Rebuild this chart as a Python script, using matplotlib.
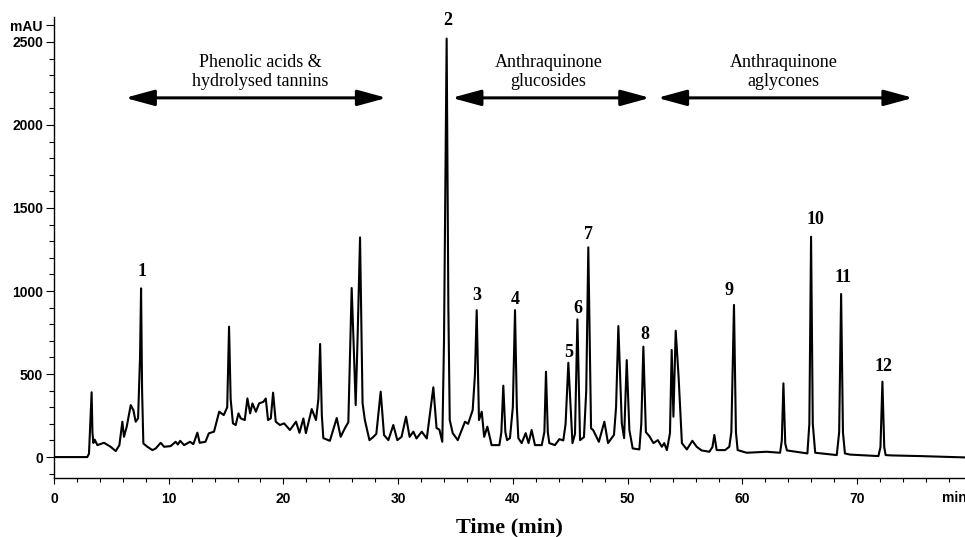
import matplotlib
matplotlib.use('Agg')
import matplotlib.pyplot as plt
from matplotlib.ticker import MultipleLocator, FixedLocator

# chromatogram trace (time in min, absorbance in mAU)
time_min = [
    0, 2.9, 3.05, 3.14, 3.28, 3.35, 3.43, 3.55, 3.78, 4.36, 4.94, 5.38, 5.7, 5.96, 6.1, 6.34,
    6.69, 6.92, 7.12, 7.33, 7.5, 7.59, 7.68, 7.79, 8.14, 8.58, 8.87, 9.3, 9.6, 10.17, 10.6,
    10.8, 11.0, 11.34, 11.86, 12.15, 12.5, 12.7, 13.2, 13.5, 13.95, 14.4, 14.8, 15.1, 15.26,
    15.4, 15.6, 15.84, 16.08, 16.28, 16.63, 16.86, 17.1, 17.3, 17.6, 17.88, 18.26, 18.46,
    18.66, 18.9, 19.1, 19.33, 19.7, 20.06, 20.57, 21.1, 21.4, 21.74, 21.96, 22.47, 22.84,
    23.05, 23.2, 23.35, 23.48, 24.05, 24.65, 24.99, 25.37, 25.66, 25.95, 26.1, 26.3, 26.46,
    26.68, 26.9, 27.1, 27.5, 27.85, 28.1, 28.48, 28.77, 29.15, 29.58, 29.93, 30.3, 30.69,
    31.0, 31.33, 31.6, 32.06, 32.5, 32.78, 33.07, 33.35, 33.6, 33.85, 34.0, 34.23, 34.38,
    34.5, 34.76, 35.2, 35.83, 36.1, 36.5, 36.7, 36.85, 37.05, 37.29, 37.5, 37.78, 38.15,
    38.83, 39.0, 39.17, 39.35, 39.5, 39.75, 40.0, 40.19, 40.35, 40.48, 40.77, 41.12, 41.37,
    41.64, 41.93, 42.52, 42.75, 42.89, 43.05, 43.18, 43.67, 44.06, 44.4, 44.6, 44.84, 45.2,
    45.42, 45.63, 45.86, 46.2, 46.4, 46.58, 46.82, 47.0, 47.5, 47.98, 48.3, 48.82, 49.0,
    49.2, 49.5, 49.7, 49.93, 50.16, 50.45, 51.03, 51.2, 51.38, 51.6, 51.9, 52.26, 52.64,
    52.99, 53.2, 53.43, 53.7, 53.85, 54.0, 54.2, 54.45, 54.74, 55.17, 55.65, 56.03, 56.46,
    57.13, 57.4, 57.57, 57.77, 58.5, 58.87, 59.05, 59.28, 59.45, 59.6, 60.39, 62.13, 63.3,
    63.45, 63.59, 63.75, 63.9, 65.68, 65.85, 66.0, 66.15, 66.36, 68.24, 68.45, 68.62, 68.78,
    68.95, 69.4, 71.87, 72.05, 72.22, 72.38, 72.5, 73.0, 75.5, 79.4,
]
absorbance = [
    0, 0, 20, 160, 390, 150, 85, 105, 72, 86, 62, 36, 72, 213, 122, 183,
    313, 283, 213, 233, 600, 1016, 400, 82, 62, 42, 52, 86, 62, 66, 92,
    76, 98, 72, 92, 78, 147, 86, 92, 143, 153, 273, 253, 300, 785,
    350, 203, 193, 263, 233, 223, 353, 263, 323, 273, 323, 333, 353,
    223, 233, 388, 213, 193, 203, 163, 213, 146, 233, 144, 289, 223,
    350, 681, 250, 114, 98, 235, 122, 175, 210, 1018, 725, 313, 700,
    1323, 325, 223, 102, 122, 140, 394, 133, 102, 193, 102, 122, 243,
    122, 153, 112, 153, 112, 264, 420, 175, 165, 92, 700, 2520, 900,
    223, 144, 102, 213, 200, 283, 500, 885, 223, 273, 122, 183, 72,
    72, 150, 430, 150, 102, 114, 300, 885, 300, 114, 84, 144, 84,
    163, 72, 72, 150, 514, 150, 84, 72, 108, 100, 200, 568, 84,
    140, 829, 102, 120, 400, 1263, 173, 163, 92, 213, 84, 134, 300,
    789, 203, 114, 584, 163, 52, 46, 200, 665, 150, 126, 84, 102,
    62, 84, 42, 144, 645, 243, 761, 484, 84, 46, 98, 62, 40,
    32, 60, 133, 42, 42, 62, 150, 916, 150, 42, 26, 32, 26,
    100, 444, 80, 40, 22, 200, 1327, 200, 26, 12, 150, 982, 150,
    22, 15, 6, 60, 454, 60, 12, 10, 6, -2,
]

# numbered peaks: label, label position
peak_labels = ['1', '2', '3', '4', '5', '6', '7', '8', '9', '10', '11', '12']
peak_label_t = [7.64, 34.3, 36.85, 40.2, 44.84, 45.63, 46.58, 51.5, 58.87, 66.4, 68.8, 72.3]
peak_label_y = [1120, 2626, 970, 946, 632, 892, 1343, 741, 1006, 1428, 1084, 548]

# compound-class ranges
group_names = ['Phenolic acids &\nhydrolysed tannins', 'Anthraquinone\nglucosides', 'Anthraquinone\naglycones']
group_start = [6.2, 34.67, 52.6]
group_end = [29.0, 51.96, 74.9]
group_text_t = [18.0, 43.1, 63.6]

serif = 'Liberation Serif'
sans = 'Liberation Sans'

fig = plt.figure(figsize=(9.65, 5.37), dpi=100)
ax = fig.add_axes([54 / 965, 59 / 537, 911 / 965, 461 / 537])

ax.plot(time_min, absorbance, color='black', lw=1.5)

ax.set_xlim(0, 79.42)
ax.set_ylim(-126, 2650)
for side in ['top', 'right']:
    ax.spines[side].set_visible(False)
ax.spines['left'].set_linewidth(1.0)
ax.spines['bottom'].set_linewidth(1.0)

ax.xaxis.set_major_locator(MultipleLocator(10))
ax.xaxis.set_minor_locator(MultipleLocator(2))
ax.yaxis.set_major_locator(FixedLocator([0, 500, 1000, 1500, 2000, 2500, 2600]))
ax.yaxis.set_minor_locator(MultipleLocator(100))
ax.set_yticklabels(['0', '500', '1000', '1500', '2000', '2500', 'mAU'])
ax.tick_params(axis='y', which='major', direction='out', length=6, width=0.8, pad=2)
ax.tick_params(axis='y', which='minor', direction='out', length=3.5, width=0.8)
ax.tick_params(axis='x', which='major', direction='out', length=4, width=0.8, pad=6)
ax.tick_params(axis='x', which='minor', direction='out', length=3, width=0.8)
for lab in ax.get_xticklabels() + ax.get_yticklabels():
    lab.set_fontfamily(sans)
    lab.set_fontweight('bold')
    lab.set_fontsize(10)

ax.annotate('min', xy=(78.5, 0), xycoords=('data', 'axes fraction'), xytext=(0, -9.5),
            textcoords='offset points', ha='center', va='top', fontsize=10,
            fontweight='bold', family=sans)

ax.set_xlabel('Time (min)', family=serif, fontweight='bold', fontsize=16, labelpad=8)

for lab, t, y in zip(peak_labels, peak_label_t, peak_label_y):
    ax.text(t, y, lab, ha='center', va='center', family=serif, fontweight='bold', fontsize=13)

for name, t0, t1, tt in zip(group_names, group_start, group_end, group_text_t):
    ax.annotate('', xy=(t0, 2163), xytext=(t1, 2163),
                arrowprops=dict(arrowstyle='<|-|>,head_length=1.1,head_width=0.3',
                                mutation_scale=16, lw=2.2, color='black',
                                shrinkA=0, shrinkB=0))
    ax.text(tt, 2316, name, ha='center', va='center', family=serif, fontsize=13,
            linespacing=1.15)

fig.savefig('out.png', dpi=100)
